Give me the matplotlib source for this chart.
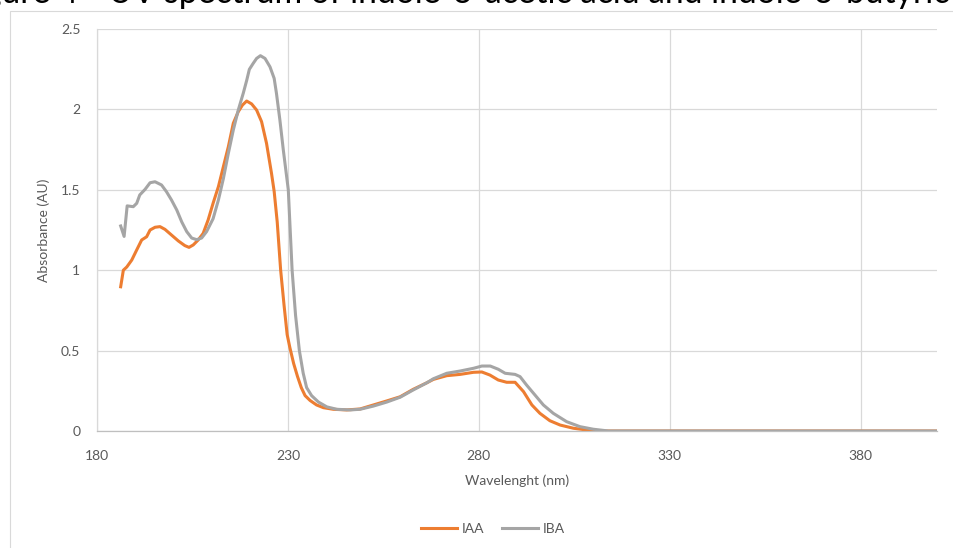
import matplotlib
matplotlib.use('Agg')
import matplotlib.pyplot as plt
from matplotlib.patches import Rectangle

plt.rcParams['font.family'] = ['Lato', 'DejaVu Sans']

# wavelength (nm) / absorbance (AU)
iaa_nm = [186.2, 186.9, 187.8, 189.1, 190.4, 191.7, 193.0, 193.9, 195.2, 196.5,
          197.8, 199.5, 201.3, 203.0, 204.1, 205.2, 206.5, 207.8, 209.1, 210.4,
          211.8, 213.1, 214.4, 215.7, 217.0, 218.1, 219.2, 220.5, 221.8, 223.1,
          224.4, 225.7, 226.4, 227.2, 228.1, 229.0, 229.8, 230.5, 231.5, 232.5,
          233.5, 234.5, 235.8, 237.5, 239.3, 241.9, 245.4, 248.9, 252.4, 255.9,
          259.4, 262.8, 266.4, 268.1, 271.6, 275.1, 278.6, 280.8, 282.9, 285.1,
          287.3, 289.5, 291.7, 293.9, 296.0, 298.6, 301.3, 304.8, 308.3, 311.8,
          400.0]
iaa_abs = [0.897, 1.0, 1.02, 1.063, 1.126, 1.188, 1.208, 1.25, 1.267, 1.271,
           1.254, 1.219, 1.182, 1.153, 1.142, 1.157, 1.188, 1.229, 1.312, 1.416,
           1.52, 1.644, 1.768, 1.914, 1.986, 2.027, 2.052, 2.034, 1.996, 1.924,
           1.789, 1.603, 1.49, 1.30, 1.0, 0.78, 0.60, 0.52, 0.42, 0.34,
           0.27, 0.22, 0.19, 0.162, 0.145, 0.135, 0.131, 0.137, 0.162, 0.187,
           0.213, 0.259, 0.30, 0.321, 0.344, 0.352, 0.365, 0.367, 0.348, 0.317,
           0.303, 0.303, 0.245, 0.162, 0.110, 0.064, 0.037, 0.017, 0.006, 0.0,
           0.0]

iba_nm = [186.2, 187.1, 187.9, 189.5, 190.4, 191.2, 192.6, 193.9, 195.2, 196.9,
          198.2, 199.5, 200.9, 202.2, 203.5, 204.8, 206.1, 207.4, 208.7, 210.4,
          211.8, 213.1, 214.4, 215.7, 217.0, 218.3, 219.2, 219.9, 220.9, 221.8,
          222.8, 224.0, 225.3, 226.4, 227.0, 227.9, 228.8, 230.1, 231.1, 232.0,
          233.0, 234.0, 234.9, 236.2, 238.0, 240.2, 242.8, 246.3, 248.9, 252.4,
          255.9, 259.4, 262.8, 266.4, 268.1, 271.6, 275.1, 278.6, 280.8, 283.0,
          285.1, 286.9, 289.5, 290.8, 292.5, 294.7, 296.9, 299.5, 303.0, 306.5,
          310.0, 314.0, 400.0]
iba_abs = [1.275, 1.21, 1.40, 1.395, 1.416, 1.468, 1.503, 1.544, 1.55, 1.53,
           1.488, 1.437, 1.374, 1.30, 1.24, 1.20, 1.19, 1.20, 1.24, 1.32,
           1.437, 1.57, 1.727, 1.872, 1.996, 2.10, 2.18, 2.249, 2.286, 2.317,
           2.334, 2.317, 2.265, 2.193, 2.10, 1.934, 1.747, 1.5, 1.0, 0.72,
           0.5, 0.36, 0.27, 0.22, 0.18, 0.15, 0.135, 0.131, 0.135, 0.155,
           0.18, 0.21, 0.255, 0.30, 0.325, 0.359, 0.373, 0.39, 0.404, 0.404,
           0.384, 0.359, 0.352, 0.338, 0.286, 0.224, 0.162, 0.110, 0.058, 0.027,
           0.011, 0.0, 0.0]

x_ticks = [180, 230, 280, 330, 380]
y_ticks = [0, 0.5, 1, 1.5, 2, 2.5]
y_labels = ['0', '0.5', '1', '1.5', '2', '2.5']

caption_cut = 'Fig'
caption = 'Figure 4 - UV spectrum of indole-3-acetic acid and indole-3-butyric acid'
caption_seen = 'ure 4 - UV spectrum of indole-3-acetic acid and indole-3-butyric'

W, H = 954, 548
fig = plt.figure(figsize=(W / 100, H / 100), dpi=100)
renderer = fig.canvas.get_renderer()

# chart area border
fig.patches.append(Rectangle((10 / W, -0.1), 1.2, 1 - 11 / H + 0.1, transform=fig.transFigure,
                             fill=False, edgecolor='#D9D9D9', lw=0.8))

# caption above the chart, cut off by the screenshot: size it so the visible
# part spans the width like in the reference
probe = fig.text(0, 0, caption_seen, fontsize=20)
fs = 20 * 952 / probe.get_window_extent(renderer).width
probe.remove()
probe = fig.text(0, 0, caption_cut, fontsize=fs)
off = probe.get_window_extent(renderer).width
probe.remove()
fig.text((-off + 1) / W, 1 - 3 / H, caption, fontsize=fs, color='black',
         ha='left', va='baseline')

ax = fig.add_axes([97 / W, 117 / H, 840 / W, 402 / H])
ax.plot(iaa_nm, iaa_abs, color='#ED7D31', lw=2.2, label='IAA')
ax.plot(iba_nm, iba_abs, color='#A5A5A5', lw=2.2, label='IBA')

ax.set_xlim(180, 400)
ax.set_ylim(0, 2.5)
ax.set_xticks(x_ticks)
ax.set_yticks(y_ticks)
ax.set_yticklabels(y_labels)
ax.grid(True, color='#D9D9D9', lw=0.9)
ax.set_axisbelow(True)
for s in ['top', 'right']:
    ax.spines[s].set_visible(False)
ax.spines['left'].set_color('#D9D9D9')
ax.spines['left'].set_linewidth(0.9)
ax.spines['bottom'].set_color('#BFBFBF')
ax.spines['bottom'].set_linewidth(0.9)
ax.tick_params(length=0, labelsize=10, labelcolor='#595959')
ax.tick_params(axis='y', pad=12)
ax.tick_params(axis='x', pad=14)

ax.set_xlabel('Wavelenght (nm)', fontsize=10, color='#595959', labelpad=9)
ax.set_ylabel('Absorbance (AU)', fontsize=10, color='#595959', labelpad=8)

fig.legend(loc='center', bbox_to_anchor=(493 / W, 1 - 529 / H), ncol=2, frameon=False,
           fontsize=10, labelcolor='#595959', handlelength=2.6, handletextpad=0.3,
           columnspacing=1.3)

fig.savefig('out.png', dpi=100)
